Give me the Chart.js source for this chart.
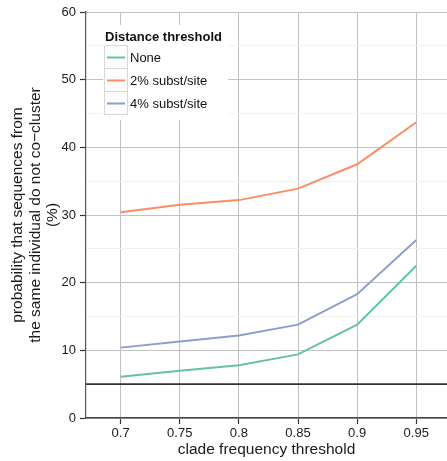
<!DOCTYPE html>
<html>
<head>
<meta charset="utf-8">
<script src="https://cdn.jsdelivr.net/npm/chart.js@4/dist/chart.umd.min.js"></script>
<style>
  html, body { margin: 0; padding: 0; background: #ffffff; }
  #wrap { width: 447px; height: 461px; }
</style>
</head>
<body>
<div id="wrap"><canvas id="chart" width="447" height="461"></canvas></div>
<script>
// clade frequency thresholds on the x axis
const thresholds = [0.7, 0.75, 0.8, 0.85, 0.9, 0.95];
const xTickLabels = ['0.7', '0.75', '0.8', '0.85', '0.9', '0.95'];

// percentage of sequences from one individual that do not co-cluster
const noneValues   = [6.1, 7.0, 7.8, 9.4, 13.8, 22.5];
const subst2Values = [30.4, 31.5, 32.2, 33.9, 37.5, 43.7];
const subst4Values = [10.4, 11.3, 12.2, 13.8, 18.3, 26.3];

const seriesNames = ['None', '2% subst/site', '4% subst/site'];
const seriesColors = ['#66c2a5', '#fc8d62', '#8da0cb'];

// horizontal reference level (%)
const referenceLevel = 5;

const yMajorTicks = [0, 10, 20, 30, 40, 50, 60];
const yMinorTicks = [5, 15, 25, 35, 45, 55];

const xMin = 0.6707, xMax = 0.976;
const FONT = '"Liberation Sans", Arial, Helvetica, sans-serif';

const toPoints = vals => vals.map((v, i) => ({ x: thresholds[i], y: v }));

const datasets = [noneValues, subst2Values, subst4Values].map((vals, i) => ({
  label: seriesNames[i],
  data: toPoints(vals),
  borderColor: seriesColors[i],
  backgroundColor: seriesColors[i],
  borderWidth: 2,
  pointRadius: 0,
  tension: 0,
  fill: false,
  inLegend: true
}));

datasets.push({
  label: 'reference',
  data: [{ x: xMin, y: referenceLevel }, { x: xMax, y: referenceLevel }],
  borderColor: '#333333',
  borderWidth: 1.6,
  pointRadius: 0,
  fill: false,
  inLegend: false
});

// ggplot-style legend drawn inside the panel
const insideLegend = {
  id: 'insideLegend',
  afterDraw(chart) {
    const ctx = chart.ctx;
    const items = chart.data.datasets.filter(d => d.inLegend);
    const left = 104, top = 45, keyW = 23, keyH = 23;
    ctx.save();
    ctx.fillStyle = '#ffffff';
    ctx.fillRect(103, 25, 125, 95);

    ctx.fillStyle = '#111111';
    ctx.font = 'bold 13px ' + FONT;
    ctx.textAlign = 'left';
    ctx.textBaseline = 'alphabetic';
    ctx.fillText('Distance threshold', 105, 40.5);

    items.forEach((d, i) => {
      const y = top + i * keyH;
      ctx.fillStyle = '#fcfcfc';
      ctx.fillRect(left, y, keyW, keyH);
      ctx.strokeStyle = '#d8d8d8';
      ctx.lineWidth = 1;
      ctx.strokeRect(left + 0.5, y + 0.5, keyW, keyH);

      ctx.strokeStyle = d.borderColor;
      ctx.lineWidth = 2;
      ctx.beginPath();
      ctx.moveTo(left + 3, y + keyH / 2 + 1);
      ctx.lineTo(left + keyW - 2, y + keyH / 2 + 1);
      ctx.stroke();

      ctx.fillStyle = '#111111';
      ctx.font = '13px ' + FONT;
      ctx.fillText(d.label, left + 26, y + 17);
    });
    ctx.restore();
  }
};

new Chart(document.getElementById('chart'), {
  type: 'line',
  data: { datasets },
  plugins: [insideLegend],
  options: {
    responsive: false,
    maintainAspectRatio: false,
    animation: false,
    layout: { padding: { top: 12, right: 0, bottom: 0, left: 0 } },
    plugins: {
      legend: { display: false },
      tooltip: { enabled: false }
    },
    scales: {
      x: {
        type: 'linear',
        min: xMin,
        max: xMax,
        afterBuildTicks: s => { s.ticks = thresholds.map(v => ({ value: v })); },
        afterFit: s => { s.height = 43; },
        ticks: {
          callback: (v, i) => xTickLabels[i],
          color: '#1a1a1a',
          font: { family: FONT, size: 13 },
          padding: 2,
          maxRotation: 0,
          autoSkip: false
        },
        grid: {
          color: '#c2c2c2',
          lineWidth: 1,
          tickLength: 6,
          tickColor: '#333333',
          tickWidth: 1.2
        },
        border: { color: '#444444', width: 1.4 },
        title: {
          display: true,
          text: 'clade frequency threshold',
          color: '#1a1a1a',
          font: { family: FONT, size: 15.5 },
          padding: { top: 0, bottom: 2 }
        }
      },
      y: {
        type: 'linear',
        min: 0,
        max: 60,
        afterBuildTicks: s => {
          s.ticks = yMajorTicks.concat(yMinorTicks).sort((a, b) => a - b).map(v => ({ value: v }));
        },
        afterFit: s => { s.width = 86; },
        ticks: {
          callback: v => (yMajorTicks.includes(v) ? String(v) : ''),
          color: '#1a1a1a',
          font: { family: FONT, size: 13 },
          padding: 4,
          autoSkip: false
        },
        grid: {
          color: c => (yMajorTicks.includes(c.tick.value) ? '#c2c2c2' : '#f1f1f1'),
          lineWidth: 1,
          tickLength: 6,
          tickColor: c => (yMajorTicks.includes(c.tick.value) ? '#333333' : 'rgba(0,0,0,0)'),
          tickWidth: 1.2
        },
        border: { color: '#555555', width: 1.2 },
        title: {
          display: true,
          text: ['probability that sequences from', 'the same individual do not co\u2212cluster', '(%)'],
          color: '#1a1a1a',
          font: { family: FONT, size: 15.5, lineHeight: 1.13 },
          padding: { top: 9, bottom: 0 }
        }
      }
    }
  }
});
</script>
</body>
</html>
